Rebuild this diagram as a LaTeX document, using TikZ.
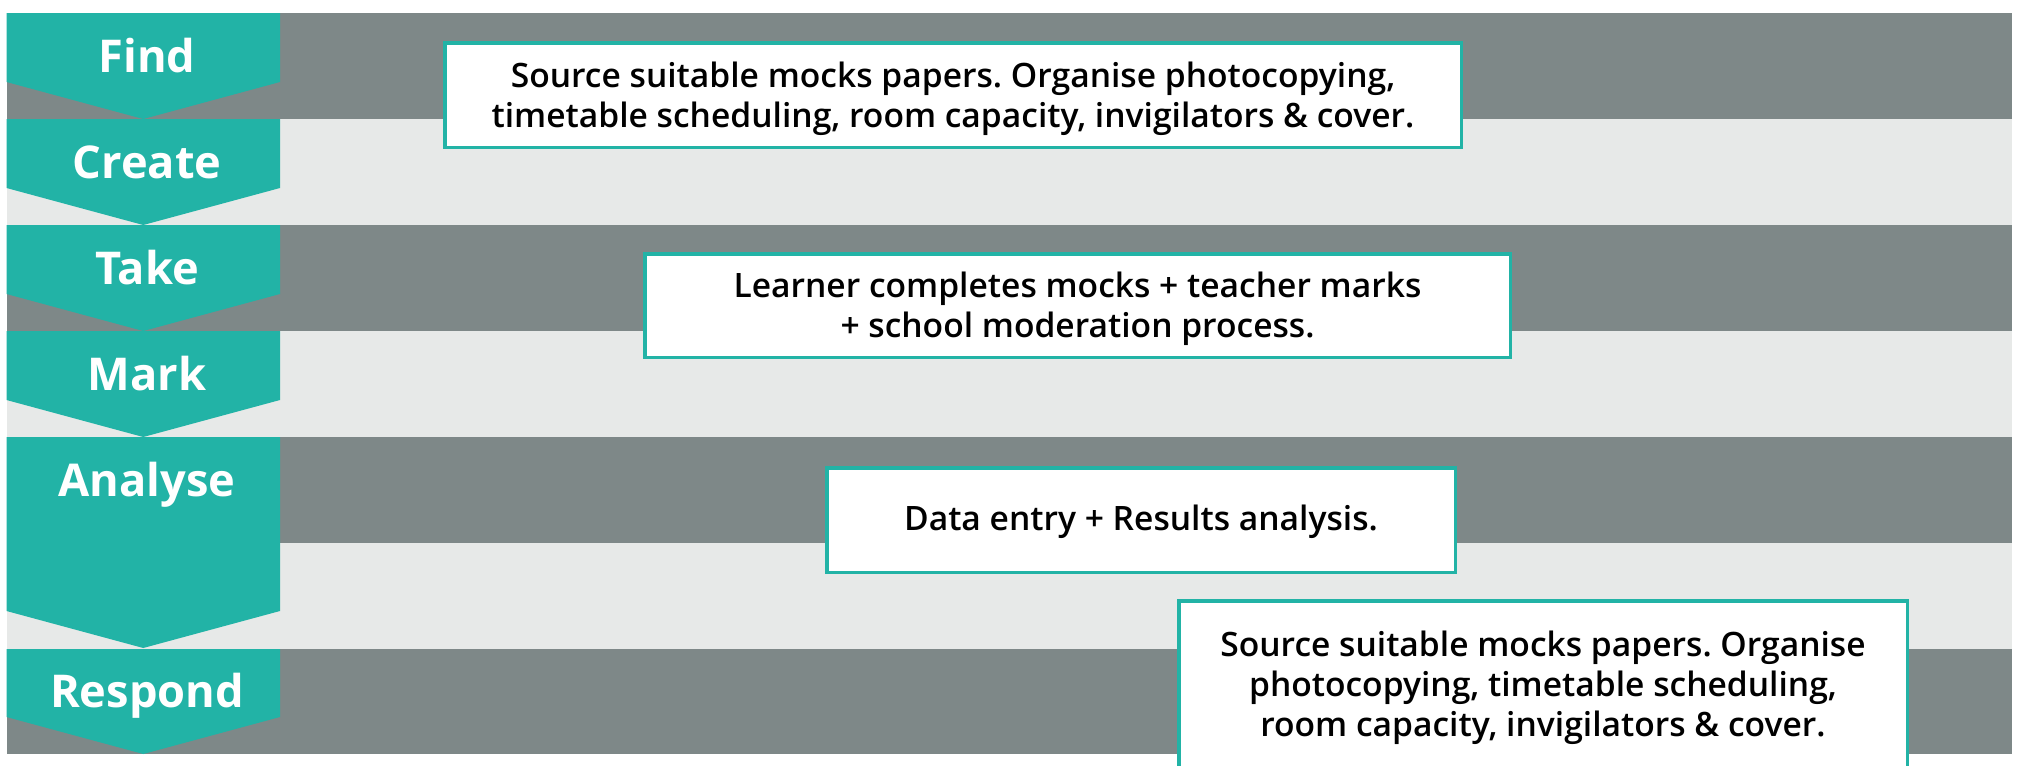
\documentclass[tikz,border=0pt]{standalone}
\usepackage{fontspec}
\setmainfont{Open Sans}
\IfFontExistsTF{Open Sans Semibold}{\newfontfamily\semifont{Open Sans Semibold}}{\newcommand\semifont{\bfseries}}
\frenchspacing
\definecolor{tealc}{RGB}{34,179,166}
\definecolor{darkband}{RGB}{126,136,136}
\definecolor{lightband}{RGB}{231,233,232}
\tikzset{
  darkrow/.style={fill=darkband},
  lightrow/.style={fill=lightband},
  chevron/.style={fill=tealc},
  lbl/.style={anchor=base, text=white, inner sep=0pt, font=\bfseries\fontsize{22.6}{27}\selectfont},
  infobox/.style={draw=tealc, line width=1.75pt, fill=white, inner sep=0pt},
  boxtext/.style={align=center, inner sep=0pt, text=black,
     font=\semifont\fontsize{16.8}{20}\selectfont}
}
\newcommand\chev[3]{\fill[chevron] (6.5,#1) -- (280,#1) -- (280,#2) -- (143.25,#3) -- (6.5,#2) -- cycle;}
\begin{document}
\begin{tikzpicture}[x=0.5pt,y=-0.5pt]
\useasboundingbox (0,0) rectangle (2025,766);
% bands
\fill[darkrow]  (6.5,13)  rectangle (2012,119);
\fill[lightrow] (6.5,119) rectangle (2012,225);
\fill[darkrow]  (6.5,225) rectangle (2012,331);
\fill[lightrow] (6.5,331) rectangle (2012,437);
\fill[darkrow]  (6.5,437) rectangle (2012,543);
\fill[lightrow] (6.5,543) rectangle (2012,649);
\fill[darkrow]  (6.5,649) rectangle (2012,754);
% chevrons
\chev{13}{82}{119}
\chev{119}{188}{225}
\chev{225}{294}{331}
\chev{331}{400}{437}
\chev{437}{611}{648}
\chev{649}{717}{754}
% labels
\node[lbl] (find)    at (147,72)  {Find};
\node[lbl] (create)  at (147,178) {Create};
\node[lbl] (take)    at (147,284) {Take};
\node[lbl] (mark)    at (147,390) {Mark};
\node[lbl] (analyse) at (147,496) {Analyse};
\node[lbl] (respond) at (147,707) {Respond};
% boxes
\node[infobox, minimum width=508.25pt, minimum height=52.25pt] (b1) at (953,95) {};
\node[infobox, minimum width=432.75pt, minimum height=51.75pt] (b2) at (1077.5,305.5) {};
\node[infobox, minimum width=314.25pt, minimum height=52.25pt] (b3) at (1141,520) {};
\node[infobox, minimum width=364.25pt, minimum height=83.75pt] (b4) at (1543,684.5) {};
% box texts
\node[boxtext] (t1) at ([yshift=-2pt]b1.center)
  {Source suitable mocks papers. Organise photocopying,\\timetable scheduling, room capacity, invigilators \& cover.};
\node[boxtext] (t2) at ([yshift=-1.5pt]b2.center)
  {Learner completes mocks + teacher marks\\+ school moderation process.};
\node[boxtext] (t3) at ([yshift=-1pt]b3.center)
  {Data entry + Results analysis.};
\node[boxtext] (t4) at ([yshift=-1.5pt]b4.center)
  {Source suitable mocks papers. Organise\\photocopying, timetable scheduling,\\room capacity, invigilators \& cover.};
\end{tikzpicture}
\end{document}
